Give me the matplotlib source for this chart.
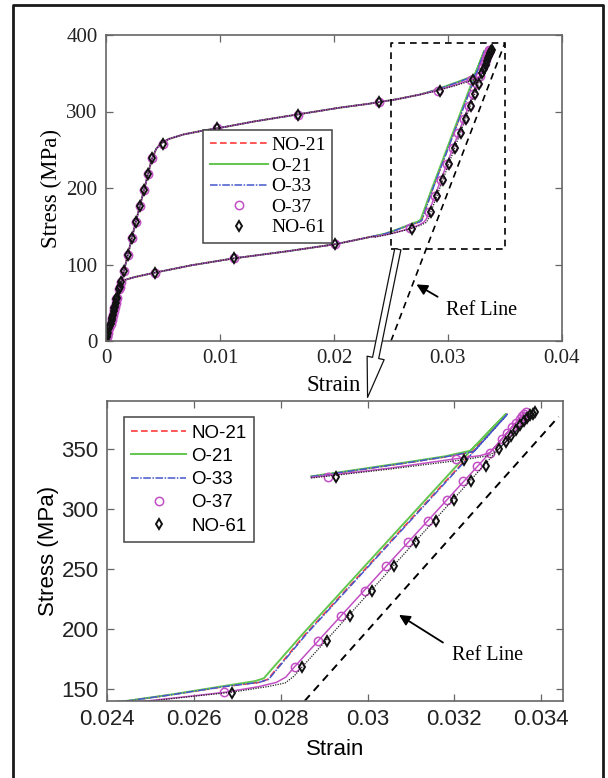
import matplotlib
matplotlib.use("Agg")
import matplotlib.pyplot as plt
from matplotlib.lines import Line2D
from matplotlib.patches import ConnectionPatch

# ---- data ----
series_names = ["NO-21", "O-21", "O-33", "O-37", "NO-61"]

# loading branch shared by all series (up to the start of the zoomed part)
load_strain = [0.0, 0.0005, 0.001, 0.0015, 0.002, 0.0025, 0.003, 0.0035, 0.004, 0.0044,
               0.0048, 0.0055, 0.0068, 0.0085, 0.0105, 0.013, 0.0155, 0.018, 0.0205,
               0.023, 0.0255, 0.0275]
load_stress = [0, 28, 56, 87, 118, 149, 178, 207, 237, 251,
               258, 264, 270, 275, 280, 287, 293, 299, 305,
               310, 316, 322]

# lower unloading plateau shared by all series (after the zoomed part)
lower_strain = [0.0235, 0.0201, 0.016, 0.0112, 0.0075, 0.0043, 0.0025, 0.0017,
                0.0013, 0.0011, 0.0008, 0.0004, 0.0]
lower_stress = [137, 126.5, 117.5, 108, 99, 89.4, 83.5, 80,
                77, 68, 49, 24, 0]

# per-series part of the loop: end of upper plateau -> peak -> unloading -> lower plateau
tail_strain = {
    "NO-21": [0.0287, 0.0298, 0.0310, 0.0318, 0.03243, 0.03320, 0.03243, 0.03006,
              0.02856, 0.02770, 0.0275, 0.0267, 0.0255, 0.0245, 0.0235],
    "O-21": [0.0287, 0.0298, 0.0310, 0.0318, 0.03237, 0.03318, 0.03237, 0.0300,
             0.0285, 0.02761, 0.0274, 0.0267, 0.0255, 0.0245, 0.0235],
    "O-33": [0.0287, 0.0298, 0.0310, 0.0318, 0.03245, 0.03322, 0.03245, 0.03008,
             0.02858, 0.02772, 0.0275, 0.0267, 0.0255, 0.0245, 0.0235],
    "O-37": [0.0287, 0.0305, 0.0320, 0.0326, 0.03282, 0.03362, 0.03282, 0.02832,
             0.02812, 0.0279, 0.0275, 0.0267, 0.0258, 0.0249, 0.0235],
    "NO-61": [0.0287, 0.0305, 0.0322, 0.0328, 0.03302, 0.03385, 0.03302, 0.0285,
              0.0283, 0.0281, 0.0277, 0.02687, 0.0258, 0.0250, 0.0235],
}
tail_stress = {
    "NO-21": [327.0, 332.6, 339, 343.5, 348.0, 379, 348.0, 254.5,
              195.3, 158.0, 155.5, 152, 145.3, 140.2, 137],
    "O-21": [327.2, 333, 339.5, 344, 348.6, 379, 348.6, 255,
             195.6, 158.9, 156.5, 152.5, 145.5, 140.3, 137],
    "O-33": [327.0, 332.6, 339, 343.5, 348.0, 379, 348.0, 254.5,
             195.3, 158.0, 155.5, 152, 145.3, 140.2, 137],
    "O-37": [326.3, 334, 341.7, 344.5, 347, 380.6, 347, 168.6,
             160, 155.5, 152, 147.2, 143.5, 140, 136],
    "NO-61": [325.8, 333.2, 341, 344.5, 350, 380.6, 350, 168.6,
              160.5, 155, 152, 147.3, 143.2, 140, 135.5],
}

# marker samples (O-37 circles, NO-61 diamonds)
load_mk_strain = [0.0, 0.0001, 0.0002, 0.0003, 0.0004, 0.0005, 0.0006, 0.0007, 0.0008,
                  0.0009, 0.001, 0.00125, 0.0016, 0.00195, 0.0023, 0.00265, 0.00297,
                  0.00332, 0.00367, 0.00402, 0.00497, 0.00973, 0.01684, 0.02398]
load_mk_stress = [0, 5, 11, 17, 22, 28, 34, 39, 45,
                  50, 56, 71, 92, 113, 134, 155, 176,
                  197, 218, 239, 258, 278, 295, 312]
lower_mk_strain = [0.02007, 0.01122, 0.00429, 0.0013, 0.0011, 0.0009, 0.0007, 0.0005,
                   0.0003, 0.0001]
lower_mk_stress = [126.5, 108, 89.4, 77.6, 68, 55.5, 43, 30, 18, 6]

tail_mk_strain = {
    "O-37": [0.0291, 0.03203, 0.03309, 0.03322, 0.03333, 0.03342, 0.0335, 0.03356,
             0.03361, 0.03364, 0.03282, 0.03253, 0.03219, 0.03183, 0.03139, 0.03092,
             0.03043, 0.02993, 0.02939, 0.02886, 0.02832, 0.02669],
    "NO-61": [0.02928, 0.03222, 0.03302, 0.03318, 0.0333, 0.03342, 0.03352, 0.0336,
              0.03368, 0.03374, 0.0338, 0.03385, 0.03273, 0.03239, 0.032, 0.03158,
              0.03112, 0.03062, 0.03011, 0.0296, 0.02906, 0.0285, 0.02687],
}
tail_mk_stress = {
    "O-37": [327, 341.7, 358, 363, 368, 372, 375, 377.5,
             379.5, 380.6, 347, 336, 323, 307.8, 290.3, 272.2,
             252.5, 231.9, 210.8, 189.7, 168.6, 147.2],
    "NO-61": [327, 341, 350, 356, 361, 366, 370, 373,
              376, 378, 379.5, 380.6, 336, 323, 307.8, 290.3,
              272.2, 252.5, 231.9, 210.8, 189.7, 168.6, 147],
}

# reference lines and zoom box
ref_top_strain = [0.025, 0.035]
ref_top_stress = [0, 390]
ref_bot_strain = [0.02855, 0.0344]
ref_bot_stress = [140, 377]
box_strain = [0.025, 0.035, 0.035, 0.025, 0.025]
box_stress = [120, 120, 390, 390, 120]

top_xticks = [0, 0.01, 0.02, 0.03, 0.04]
top_xticklabels = ["0", "0.01", "0.02", "0.03", "0.04"]
top_yticks = [0, 100, 200, 300, 400]
bot_xticks = [0.024, 0.026, 0.028, 0.03, 0.032, 0.034]
bot_xticklabels = ["0.024", "0.026", "0.028", "0.03", "0.032", "0.034"]
bot_yticks = [150, 200, 250, 300, 350]

# ---- styles ----
styles = {
    "NO-21": dict(color="#ff3b3b", ls=(0, (4, 2)), lw=1.2),
    "O-21": dict(color="#62c64f", ls="-", lw=1.4),
    "O-33": dict(color="#4657cc", ls=(0, (5, 1, 1, 1)), lw=1.1),
    "O-37": dict(color="#c24fc4", ls="-", lw=1.1),
    "NO-61": dict(color="#222222", ls=(0, (1, 1)), lw=0.9),
}
mk_styles = {
    "O-37": dict(marker="o", ms=6, mfc="none", mec="#c24fc4", mew=1.1),
    "NO-61": dict(marker="d", ms=5, mfc="none", mec="#111111", mew=1.4),
}

SERIF = "Liberation Serif"
SANS = "Liberation Sans"
AXCOL = "#666666"

fig = plt.figure(figsize=(6.08, 7.78), dpi=100)
ax1 = fig.add_axes([106 / 608, 1 - 341 / 778, 456 / 608, 306 / 778])
ax2 = fig.add_axes([107 / 608, 1 - 701 / 778, 456 / 608, 300 / 778])

# outer frame (open at the bottom)
fig.add_artist(Line2D([0.0222, 0.0222, 0.9918, 0.9918], [0.0, 0.9936, 0.9936, 0.0],
                      transform=fig.transFigure, color="#1a1a1a", lw=2.0))


def style_axes(ax, family, size):
    for sp in ax.spines.values():
        sp.set_color(AXCOL)
        sp.set_linewidth(1.2)
    ax.tick_params(direction="in", top=True, right=True, length=5, width=0.9,
                   color=AXCOL, labelsize=size, pad=6, labelcolor="#222222")
    for lab in ax.get_xticklabels() + ax.get_yticklabels():
        lab.set_family(family)


# ---- top: full loop ----
for name in series_names:
    xs = load_strain + tail_strain[name] + lower_strain
    ys = load_stress + tail_stress[name] + lower_stress
    ax1.plot(xs, ys, **styles[name])
    if name in mk_styles:
        mx = load_mk_strain + tail_mk_strain[name] + lower_mk_strain
        my = load_mk_stress + tail_mk_stress[name] + lower_mk_stress
        ax1.plot(mx, my, ls="none", **mk_styles[name])

ax1.plot(ref_top_strain, ref_top_stress, color="k", ls=(0, (4, 3)), lw=1.2)
ax1.plot(box_strain, box_stress, color="k", ls=(0, (4, 3)), lw=1.2, clip_on=False)
ax1.annotate("", xy=(0.02702, 75.8), xytext=(0.0293, 56),
             arrowprops=dict(arrowstyle="-|>", color="k", lw=1.3, mutation_scale=16))
ax1.text(0.03298, 40.5, "Ref Line", family=SERIF, fontsize=14.5, ha="center", va="center")

ax1.set_xlim(0, 0.04)
ax1.set_ylim(0, 400)
ax1.set_xticks(top_xticks)
ax1.set_xticklabels(top_xticklabels)
ax1.set_yticks(top_yticks)
style_axes(ax1, SERIF, 15)
ax1.set_xlabel("Strain", family=SERIF, fontsize=16.5, labelpad=5)
ax1.set_ylabel("Stress (MPa)", family=SERIF, fontsize=16.5, labelpad=3)

# ---- bottom: zoomed part ----
for name in series_names:
    ax2.plot(tail_strain[name], tail_stress[name], **styles[name])
    if name in mk_styles:
        ax2.plot(tail_mk_strain[name], tail_mk_stress[name], ls="none", **mk_styles[name])

ax2.plot(ref_bot_strain, ref_bot_stress, color="k", ls=(0, (4, 3)), lw=1.4)
ax2.annotate("", xy=(0.03067, 213), xytext=(0.03179, 187.5),
             arrowprops=dict(arrowstyle="-|>", color="k", lw=1.3, mutation_scale=16))
ax2.text(0.03277, 177.8, "Ref Line", family=SERIF, fontsize=14.5, ha="center", va="center")

ax2.set_xlim(0.024, 0.0345)
ax2.set_ylim(140, 390)
ax2.set_xticks(bot_xticks)
ax2.set_xticklabels(bot_xticklabels)
ax2.set_yticks(bot_yticks)
style_axes(ax2, SANS, 16)
ax2.set_xlabel("Strain", family=SANS, fontsize=16, labelpad=6)
ax2.set_ylabel("Stress (MPa)", family=SANS, fontsize=16, labelpad=2)

# ---- legends ----
def legend_handles():
    hs = []
    for name in series_names:
        if name in mk_styles:
            hs.append(Line2D([], [], ls="none", **mk_styles[name]))
        else:
            hs.append(Line2D([], [], **styles[name]))
    return hs


leg1 = ax1.legend(legend_handles(), series_names, loc="upper left",
                  bbox_to_anchor=(0.213, 0.69), borderaxespad=0, frameon=True,
                  fancybox=False, framealpha=1, edgecolor="#444444",
                  prop=dict(family=SERIF, size=14), handlelength=3.0,
                  handletextpad=0.15, labelspacing=0.15, borderpad=0.35)
leg1.get_frame().set_linewidth(1.1)

leg2 = ax2.legend(legend_handles(), series_names, loc="upper left",
                  bbox_to_anchor=(0.037, 0.947), borderaxespad=0, frameon=True,
                  fancybox=False, framealpha=1, edgecolor="#444444",
                  prop=dict(family=SANS, size=13.5), handlelength=2.9,
                  handletextpad=0.3, labelspacing=0.33, borderpad=0.4)
leg2.get_frame().set_linewidth(1.1)

# ---- hollow arrow linking the zoom box to the lower panel ----
con = ConnectionPatch(xyA=(0.0256, 120), coordsA=ax1.transData,
                      xyB=(0.0300, 393), coordsB=ax2.transData,
                      arrowstyle="simple,head_length=2.9,head_width=1.25,tail_width=0.45",
                      mutation_scale=10, shrinkA=0, shrinkB=0,
                      fc="white", ec="#111111", lw=0.9, zorder=10)
fig.add_artist(con)

fig.savefig("out.png", dpi=100)
